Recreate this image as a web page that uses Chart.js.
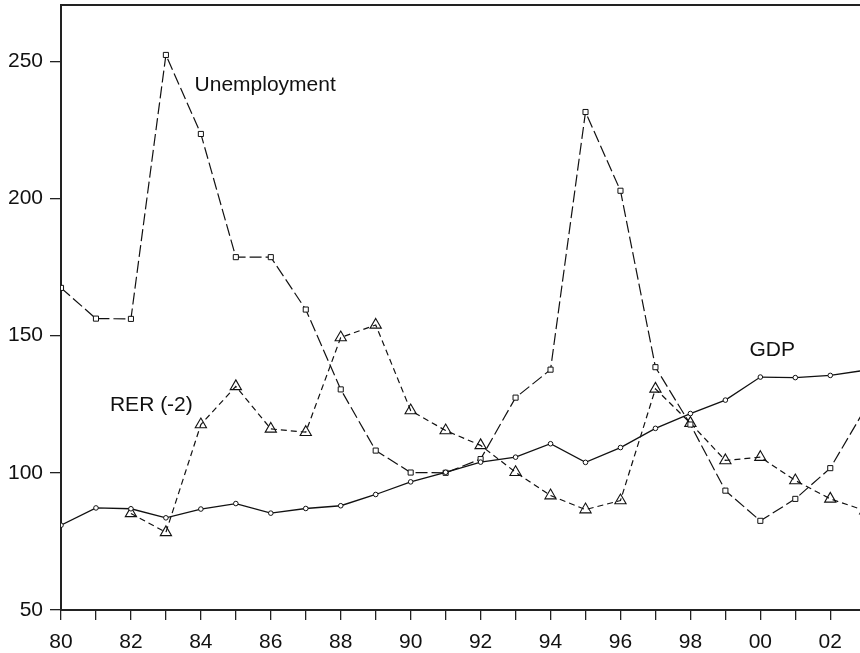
<!DOCTYPE html>
<html>
<head>
<meta charset="utf-8">
<style>
  html, body { margin: 0; padding: 0; background: #fff; }
  #wrap { width: 860px; height: 653px; }
</style>
<script src="https://cdn.jsdelivr.net/npm/chart.js@4.4.1/dist/chart.umd.min.js"></script>
</head>
<body>
<div id="wrap"><canvas id="chart" width="860" height="653"></canvas></div>
<script>
// years 1980..2003 (2003 only shows as the line running off the right edge)
const years = [80, 81, 82, 83, 84, 85, 86, 87, 88, 89, 90, 91, 92, 93, 94, 95, 96, 97, 98, 99, 100, 101, 102, 103];
const gdp = [80.9, 87.2, 86.9, 83.6, 86.8, 88.8, 85.3, 87.0, 88.0, 92.1, 96.7, 100.2, 103.9, 105.7, 110.6, 103.8, 109.2, 116.2, 121.6, 126.5, 134.9, 134.7, 135.5, 137.4];
const unemployment = [167.4, 156.2, 156.1, 252.3, 223.5, 178.6, 178.6, 159.5, 130.4, 108.1, 100.1, 100.0, 105.0, 127.4, 137.6, 231.5, 202.8, 138.5, 117.6, 93.5, 82.5, 90.5, 101.7, 123.4];
const rer = [null, null, 85.2, 78.3, 117.6, 131.5, 116.0, 114.8, 149.3, 153.9, 122.7, 115.4, 110.0, 100.2, 91.7, 86.6, 89.9, 130.6, 118.1, 104.5, 105.7, 97.2, 90.5, 86.2];
const yTicks = [50, 100, 150, 200, 250];
const xTicks = [80, 81, 82, 83, 84, 85, 86, 87, 88, 89, 90, 91, 92, 93, 94, 95, 96, 97, 98, 99, 100, 101, 102];

// text labels placed in data units
const notes = [
  { text: 'Unemployment', x: 83.82, y: 241.2 },
  { text: 'RER (-2)', x: 81.40, y: 124.8 },
  { text: 'GDP', x: 99.69, y: 144.8 }
];

const FONT = "'Liberation Sans', Arial, sans-serif";
const INK = '#111';

function pairs(vals) {
  return years.map((yr, i) => ({ x: yr, y: vals[i] }));
}

const notesPlugin = {
  id: 'notes',
  afterDatasetsDraw(chart) {
    const { ctx, scales } = chart;
    ctx.save();
    ctx.font = '21px ' + FONT;
    ctx.fillStyle = INK;
    ctx.textAlign = 'left';
    ctx.textBaseline = 'middle';
    notes.forEach(n => {
      ctx.fillText(n.text, scales.x.getPixelForValue(n.x), scales.y.getPixelForValue(n.y));
    });
    ctx.restore();
  }
};

new Chart(document.getElementById('chart'), {
  type: 'line',
  data: {
    datasets: [
      {
        label: 'GDP',
        data: pairs(gdp),
        borderColor: INK,
        borderWidth: 1.3,
        pointStyle: 'circle',
        pointRadius: 2.3,
        pointBorderWidth: 1,
        pointBackgroundColor: '#fff',
        pointBorderColor: INK,
        tension: 0
      },
      {
        label: 'Unemployment',
        data: pairs(unemployment),
        borderColor: INK,
        borderWidth: 1.2,
        borderDash: [12, 4],
        pointStyle: 'rect',
        pointRadius: 3.6,
        pointBorderWidth: 1,
        pointBackgroundColor: '#fff',
        pointBorderColor: INK,
        tension: 0
      },
      {
        label: 'RER (-2)',
        data: pairs(rer),
        borderColor: INK,
        borderWidth: 1.2,
        borderDash: [6, 4],
        pointStyle: 'triangle',
        pointRadius: 6.5,
        pointBorderWidth: 1.1,
        pointBackgroundColor: 'rgba(255,255,255,0)',
        pointBorderColor: INK,
        tension: 0,
        spanGaps: false
      }
    ]
  },
  options: {
    responsive: false,
    animation: false,
    layout: { autoPadding: false, padding: { top: 5, right: 0, left: 0, bottom: 0 } },
    plugins: {
      legend: { display: false },
      tooltip: { enabled: false }
    },
    scales: {
      x: {
        type: 'linear',
        position: 'bottom',
        min: 80,
        max: 102.85,
        afterBuildTicks: s => { s.ticks = xTicks.map(v => ({ value: v })); },
        afterFit: s => { s.height = 43; s.paddingLeft = 0; s.paddingRight = 0; },
        grid: { drawOnChartArea: false, tickLength: 10, color: '#222', lineWidth: 1.3 },
        border: { color: '#222', width: 2 },
        ticks: {
          autoSkip: false,
          maxRotation: 0,
          padding: 10,
          color: INK,
          font: { family: FONT, size: 21 },
          callback: v => (v % 2 === 0 ? String(v % 100).padStart(2, '0') : '')
        }
      },
      xTop: {
        type: 'linear',
        position: 'top',
        min: 80,
        max: 102.85,
        afterFit: s => { s.height = 0; s.paddingLeft = 0; s.paddingRight = 0; },
        grid: { display: false },
        border: { color: '#222', width: 2 },
        ticks: { display: false }
      },
      y: {
        type: 'linear',
        min: 50,
        max: 270.5,
        afterBuildTicks: s => { s.ticks = yTicks.map(v => ({ value: v })); },
        afterFit: s => { s.width = 61; s.paddingTop = 0; s.paddingBottom = 0; },
        grid: { drawOnChartArea: false, tickLength: 11, color: '#222', lineWidth: 1.3 },
        border: { color: '#222', width: 2 },
        ticks: {
          padding: 7,
          color: INK,
          font: { family: FONT, size: 21 }
        }
      }
    }
  },
  plugins: [notesPlugin]
});
</script>
</body>
</html>
